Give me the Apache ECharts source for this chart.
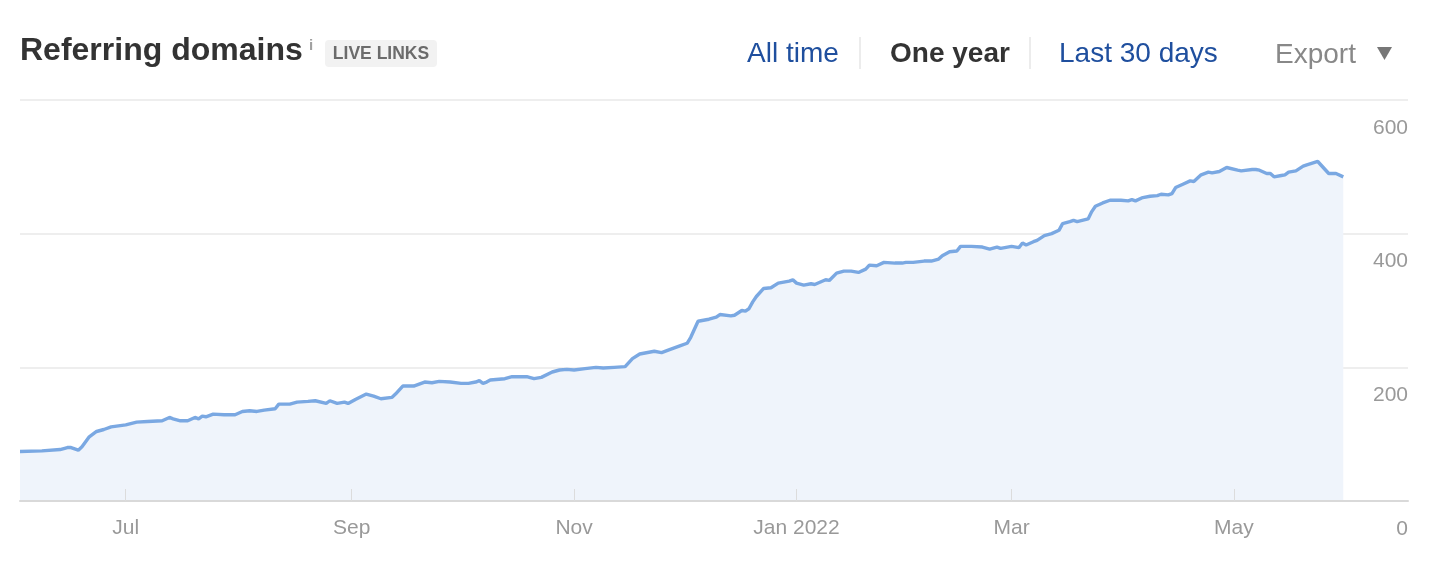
<!DOCTYPE html>
<html>
<head>
<meta charset="utf-8">
<script src="https://cdn.jsdelivr.net/npm/echarts@6/dist/echarts.min.js"></script>
<style>
  html, body { margin: 0; padding: 0; background: #ffffff; }
  #chart { width: 1432px; height: 566px; }
</style>
</head>
<body>
<div id="chart"></div>
<script>
// ---- data ----
const dates = [
  '2021-06-02','2021-06-08','2021-06-13','2021-06-15','2021-06-16','2021-06-18','2021-06-19','2021-06-21','2021-06-23','2021-06-25','2021-06-27',
  '2021-07-01','2021-07-04','2021-07-07','2021-07-11','2021-07-13','2021-07-14','2021-07-16','2021-07-18','2021-07-20','2021-07-21','2021-07-22','2021-07-23','2021-07-25','2021-07-28','2021-07-31',
  '2021-08-02','2021-08-04','2021-08-06','2021-08-08','2021-08-11','2021-08-12','2021-08-15','2021-08-17','2021-08-20','2021-08-22','2021-08-25','2021-08-26','2021-08-28','2021-08-30','2021-08-31',
  '2021-09-02','2021-09-05','2021-09-07','2021-09-09','2021-09-12','2021-09-13','2021-09-15','2021-09-18','2021-09-21','2021-09-23','2021-09-25','2021-09-28',
  '2021-10-01','2021-10-03','2021-10-05','2021-10-06','2021-10-07','2021-10-08','2021-10-09','2021-10-13','2021-10-15','2021-10-19','2021-10-21','2021-10-23','2021-10-26','2021-10-28','2021-10-30',
  '2021-11-01','2021-11-04','2021-11-07','2021-11-09','2021-11-12','2021-11-15','2021-11-17','2021-11-19','2021-11-23','2021-11-25','2021-11-27','2021-11-30',
  '2021-12-02','2021-12-03','2021-12-05','2021-12-08','2021-12-10','2021-12-11','2021-12-14','2021-12-15','2021-12-17','2021-12-18','2021-12-19','2021-12-20','2021-12-21','2021-12-23','2021-12-25','2021-12-27','2021-12-30','2021-12-31',
  '2022-01-01','2022-01-03','2022-01-05','2022-01-06','2022-01-09','2022-01-10','2022-01-12','2022-01-14','2022-01-16','2022-01-18','2022-01-20','2022-01-21','2022-01-23','2022-01-25','2022-01-28','2022-01-30','2022-01-31',
  '2022-02-02','2022-02-05','2022-02-07','2022-02-09','2022-02-10','2022-02-12','2022-02-14','2022-02-15','2022-02-18','2022-02-21','2022-02-23','2022-02-25','2022-02-26',
  '2022-03-01','2022-03-03','2022-03-04','2022-03-05','2022-03-07','2022-03-08','2022-03-10','2022-03-12','2022-03-14','2022-03-15','2022-03-17','2022-03-18','2022-03-19','2022-03-22','2022-03-23','2022-03-24','2022-03-26','2022-03-28','2022-03-31',
  '2022-04-02','2022-04-03','2022-04-04','2022-04-06','2022-04-08','2022-04-10','2022-04-11','2022-04-13','2022-04-14','2022-04-15','2022-04-17','2022-04-19','2022-04-20','2022-04-22','2022-04-24','2022-04-25','2022-04-27','2022-04-29',
  '2022-05-02','2022-05-03','2022-05-06','2022-05-07','2022-05-08','2022-05-10','2022-05-11','2022-05-12','2022-05-14','2022-05-15','2022-05-16','2022-05-18','2022-05-20','2022-05-21','2022-05-24','2022-05-27','2022-05-29','2022-05-31'
];
const domains = [
  74,75,77,80,80,76,81,96,104,107,111,
  114,118,119,120,125,123,120,120,125,123,127,126,130,129,129,
  134,135,134,136,138,145,145,148,149,150,146,150,146,148,146,
  152,160,157,153,155,160,172,172,178,177,179,178,
  176,176,178,180,176,178,181,183,186,186,183,185,193,196,197,
  196,198,200,199,200,201,213,220,224,222,226,232,
  236,245,269,272,275,279,277,278,285,284,288,298,306,318,319,326,329,331,
  326,323,325,324,331,330,341,344,344,342,347,353,352,357,356,356,357,
  357,359,359,362,367,373,374,381,381,380,377,380,378,
  381,379,386,383,388,390,397,400,405,415,418,420,418,422,433,441,446,450,450,
  449,451,449,454,456,457,459,458,460,469,474,479,478,488,492,491,493,499,
  495,494,496,496,495,490,490,485,487,488,492,494,501,503,508,490,490,485
];
const tickDates = ['2021-07-01','2021-09-01','2021-11-01','2022-01-01','2022-03-01','2022-05-01'];
const tickLabels = ['Jul','Sep','Nov','Jan 2022','Mar','May'];
const yTicks = [0, 200, 400, 600];
const axisStart = '2021-06-02';
const axisEnd = '2022-06-17 18:00';

// ---- helpers ----
function toTime(s) { return new Date(s.replace(/-/g, '/')).getTime(); }
const tickTimes = tickDates.map(toTime);
const seriesData = dates.map((d, i) => [toTime(d), domains[i]]);

const FONT = '"Liberation Sans", Arial, Helvetica, sans-serif';
const chart = echarts.init(document.getElementById('chart'), null, { renderer: 'canvas' });

chart.setOption({
  animation: false,
  backgroundColor: '#ffffff',
  textStyle: { fontFamily: FONT },
  grid: { left: 20, right: 24, top: 100, bottom: 65, containLabel: false },
  xAxis: {
    type: 'value',
    z: 10,
    min: toTime(axisStart),
    max: toTime(axisEnd),
    axisLine: { show: true, lineStyle: { color: '#d9d9d9', width: 2 } },
    axisTick: { show: true, inside: true, length: 12, customValues: tickTimes, lineStyle: { color: '#dcdcdc', width: 1 } },
    axisLabel: {
      customValues: tickTimes,
      margin: 17,
      color: '#999999',
      fontSize: 21,
      fontFamily: FONT,
      formatter: function (v) {
        const i = tickTimes.indexOf(v);
        return i >= 0 ? tickLabels[i] : '';
      }
    },
    splitLine: { show: false }
  },
  yAxis: {
    type: 'value',
    position: 'right',
    min: yTicks[0],
    max: yTicks[yTicks.length - 1],
    interval: 200,
    axisLine: { show: false },
    axisTick: { show: false },
    axisLabel: {
      inside: true,
      margin: 0,
      align: 'right',
      verticalAlign: 'top',
      padding: [17, 0, 0, 0],
      lineHeight: 22,
      color: '#999999',
      fontSize: 21,
      fontFamily: FONT
    },
    splitLine: { show: true, lineStyle: { color: '#e8e8e8', width: 1.5 } }
  },
  series: [{
    type: 'line',
    data: seriesData,
    showSymbol: false,
    smooth: false,
    lineStyle: { color: '#7aa8e2', width: 3.4 },
    itemStyle: { color: '#7aa8e2' },
    areaStyle: { color: '#eff4fb', opacity: 1 },
    z: 3
  }],
  graphic: [
    { type: 'text', left: 20, top: 35, style: { text: 'Referring domains', font: 'bold 32px ' + FONT, fill: '#333333' } },
    { type: 'text', left: 309, top: 38, style: { text: 'i', font: 'bold 15px ' + FONT, fill: '#a0a0a0' } },
    { type: 'rect', shape: { x: 325, y: 40, width: 112, height: 27, r: 4 }, style: { fill: '#f2f2f2' } },
    { type: 'text', x: 381, y: 54, style: { text: 'LIVE LINKS', font: 'bold 17.5px ' + FONT, fill: '#6b6b6b', align: 'center', verticalAlign: 'middle' } },
    { type: 'text', x: 747, y: 54, style: { text: 'All time', font: '28px ' + FONT, fill: '#1f4f9e', verticalAlign: 'middle' } },
    { type: 'rect', shape: { x: 859, y: 37, width: 2, height: 32 }, style: { fill: '#ececec' } },
    { type: 'text', x: 890, y: 54, style: { text: 'One year', font: 'bold 28px ' + FONT, fill: '#333333', verticalAlign: 'middle' } },
    { type: 'rect', shape: { x: 1029, y: 37, width: 2, height: 32 }, style: { fill: '#ececec' } },
    { type: 'text', x: 1059, y: 54, style: { text: 'Last 30 days', font: '28px ' + FONT, fill: '#1f4f9e', verticalAlign: 'middle' } },
    { type: 'text', x: 1275, y: 55, style: { text: 'Export', font: '28px ' + FONT, fill: '#888888', verticalAlign: 'middle' } },
    { type: 'polygon', shape: { points: [[1377, 47], [1392, 47], [1384.5, 60]] }, style: { fill: '#777777' } }
  ]
});
</script>
</body>
</html>
